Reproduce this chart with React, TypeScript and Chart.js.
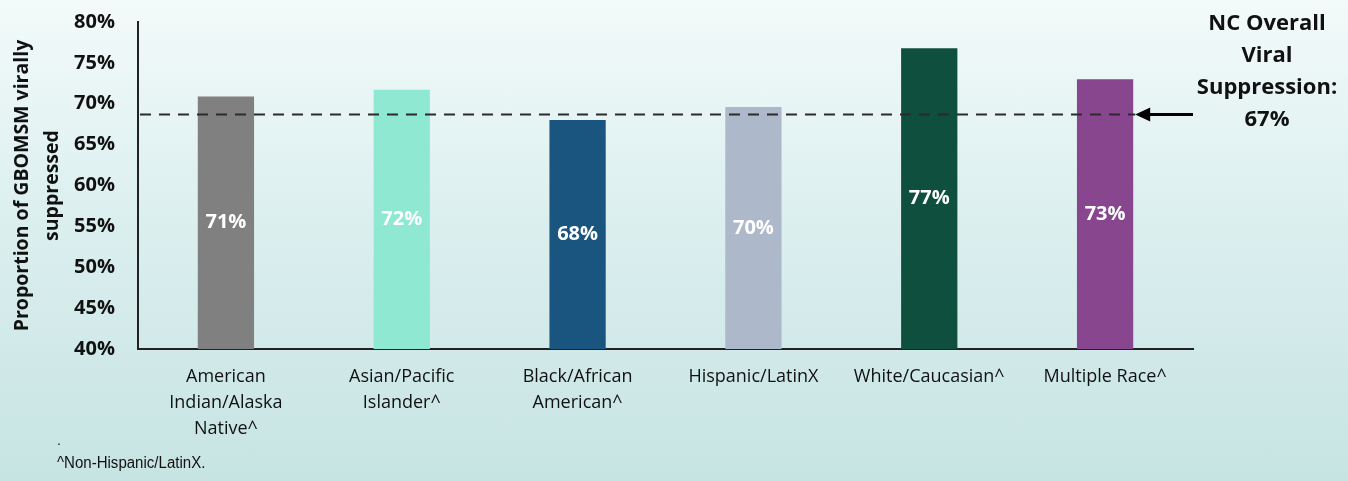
import React, { useEffect, useRef } from "react";
import { Chart, registerables } from "chart.js";

Chart.register(...registerables);

const categories: string[][] = [
  ["American", "Indian/Alaska", "Native^"],
  ["Asian/Pacific", "Islander^"],
  ["Black/African", "American^"],
  ["Hispanic/LatinX"],
  ["White/Caucasian^"],
  ["Multiple Race^"],
];
const suppressionValues: number[] = [70.9, 71.7, 68.0, 69.6, 76.8, 73.0];
const valueLabels: string[] = ["71%", "72%", "68%", "70%", "77%", "73%"];
const barColors: string[] = ["#808080", "#8FE9D2", "#1A5580", "#ADB9CB", "#0E4F3D", "#88468E"];
const overallLineValue = 68.7;
const overallLabel: string[] = ["NC Overall", "Viral", "Suppression:", "67%"];
const yAxisTitle: string[] = ["Proportion of GBOMSM virally", "suppressed"];
const footnotes: string[] = [".", "^Non-Hispanic/LatinX."];

const FONT = "'Open Sans', sans-serif";

export default function App() {
  const ref = useRef<HTMLCanvasElement | null>(null);

  useEffect(() => {
    document.body.style.margin = "0";
    const canvas = ref.current;
    if (!canvas) return;

    const overlay = {
      id: "overlay",
      afterDatasetsDraw(chart: any) {
        const ctx = chart.ctx;
        const area = chart.chartArea;
        const meta = chart.getDatasetMeta(0);
        ctx.save();
        ctx.fillStyle = "#ffffff";
        ctx.font = `bold 20px ${FONT}`;
        ctx.textAlign = "center";
        ctx.textBaseline = "middle";
        meta.data.forEach((bar: any, i: number) => {
          const base = Math.min(bar.base, area.bottom);
          ctx.fillText(valueLabels[i], bar.x, (bar.y + base) / 2);
        });
        ctx.restore();
      },
      afterDraw(chart: any) {
        const ctx = chart.ctx;
        const area = chart.chartArea;
        const y = chart.scales.y.getPixelForValue(overallLineValue);
        const meta = chart.getDatasetMeta(0);
        const lastBar: any = meta.data[meta.data.length - 1];
        const arrowTip = lastBar.x + lastBar.width / 2 + 2;
        ctx.save();
        ctx.strokeStyle = "#2b2b2b";
        ctx.lineWidth = 2;
        ctx.setLineDash([11, 8]);
        ctx.beginPath();
        ctx.moveTo(area.left + 2, y);
        ctx.lineTo(arrowTip, y);
        ctx.stroke();
        ctx.setLineDash([]);
        ctx.strokeStyle = "#000000";
        ctx.fillStyle = "#000000";
        ctx.lineWidth = 3;
        ctx.beginPath();
        ctx.moveTo(arrowTip + 10, y);
        ctx.lineTo(area.right, y);
        ctx.stroke();
        ctx.beginPath();
        ctx.moveTo(arrowTip, y);
        ctx.lineTo(arrowTip + 15, y - 7);
        ctx.lineTo(arrowTip + 15, y + 7);
        ctx.closePath();
        ctx.fill();
        ctx.font = `bold 22px ${FONT}`;
        ctx.textAlign = "center";
        ctx.textBaseline = "middle";
        ctx.fillStyle = "#111111";
        overallLabel.forEach((t, i) => {
          ctx.fillText(t, 1267, 24 + i * 32);
        });
        ctx.textAlign = "left";
        ctx.font = "14px 'Liberation Sans', Arial, sans-serif";
        ctx.fillText(footnotes[0], 57, 441);
        ctx.translate(57, 464);
        ctx.scale(0.94, 1);
        ctx.font = "16px 'Liberation Sans', Arial, sans-serif";
        ctx.fillText(footnotes[1], 0, 0);
        ctx.restore();
      },
    };

    const chart = new Chart(canvas, {
      type: "bar",
      data: {
        labels: categories,
        datasets: [
          {
            data: suppressionValues,
            backgroundColor: barColors,
            borderWidth: 0,
            barPercentage: 0.32,
            categoryPercentage: 1,
          },
        ],
      },
      options: {
        responsive: false,
        animation: false,
        layout: { padding: { top: 22, right: 155, bottom: 0, left: 0 } },
        plugins: {
          legend: { display: false },
          tooltip: { enabled: false },
        },
        scales: {
          x: {
            grid: { display: false, drawTicks: false },
            border: { display: true, color: "#222222", width: 2 },
            ticks: {
              color: "#111111",
              padding: 15,
              maxRotation: 0,
              autoSkip: false,
              font: { family: FONT, size: 18, lineHeight: "26px" } as any,
            },
            afterFit: (s: any) => {
              s.height = 132;
            },
          },
          y: {
            min: 40,
            max: 80,
            grid: { display: false, drawTicks: false },
            border: { display: true, color: "#222222", width: 2 },
            ticks: {
              stepSize: 5,
              color: "#111111",
              padding: 23,
              font: { family: FONT, size: 20, weight: "bold" } as any,
              callback: (v: any) => `${v}%`,
            },
            title: {
              display: true,
              text: yAxisTitle,
              color: "#111111",
              padding: { top: 7, bottom: 0 },
              font: { family: FONT, size: 19.5, weight: "bold", lineHeight: "30px" } as any,
            },
            afterFit: (s: any) => {
              s.width = 138;
              s.paddingTop = 0;
              s.paddingBottom = 0;
            },
          },
        },
      },
      plugins: [overlay],
    });
    return () => chart.destroy();
  }, []);

  return (
    <div
      style={{
        width: 1348,
        height: 481,
        background: "linear-gradient(180deg, #f3fafa 0%, #dcefef 45%, #c6e4e2 100%)",
      }}
    >
      <canvas ref={ref} width={1348} height={481} style={{ display: "block" }} />
    </div>
  );
}
